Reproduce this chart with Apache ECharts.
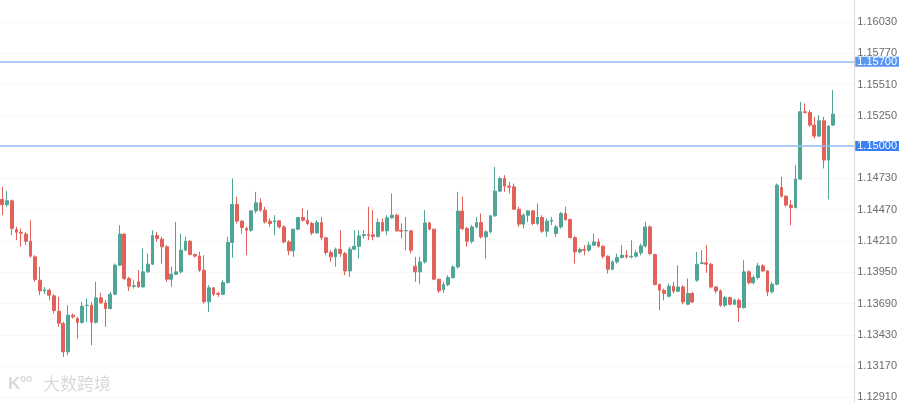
<!DOCTYPE html>
<html>
<head>
<meta charset="utf-8">
<script src="https://cdn.jsdelivr.net/npm/echarts@6/dist/echarts.min.js"></script>
<style>
html,body{margin:0;padding:0;background:#fff;}
#chart{width:900px;height:403px;}
</style>
</head>
<body>
<div id="chart"></div>
<script>
const opens = [1.14555,1.14511,1.14544,1.14305,1.14283,1.14267,1.14208,1.14078,1.13884,1.13795,
1.13801,1.13754,1.13626,1.13523,1.13288,1.13593,1.13565,1.13532,1.13673,1.13676,
1.13534,1.13737,1.13695,1.13648,1.13767,1.14009,1.14267,1.13898,1.13834,1.13870,
1.13828,1.13953,1.14017,1.14256,1.14225,1.14161,1.13892,1.13934,1.13953,1.14133,
1.14208,1.14097,1.14084,1.13967,1.13704,1.13820,1.13773,1.13767,1.13864,1.14197,
1.14513,1.14375,1.14314,1.14299,1.14460,1.14527,1.14466,1.14374,1.14369,1.14377,
1.14327,1.14202,1.14128,1.14308,1.14405,1.14383,1.14355,1.14277,1.14363,1.14236,
1.14114,1.14078,1.14141,1.14105,1.13961,1.14141,1.14166,1.14255,1.14263,1.14261,
1.14247,1.14363,1.14294,1.14402,1.14424,1.14299,1.14294,1.14294,1.14000,1.13953,
1.14036,1.14360,1.14308,1.13892,1.13806,1.13847,1.13906,1.13994,1.14458,1.14313,
1.14208,1.14327,1.14363,1.14244,1.14286,1.14419,1.14624,1.14729,1.14666,1.14660,
1.14474,1.14350,1.14424,1.14460,1.14355,1.14405,1.14291,1.14374,1.14272,1.14327,
1.14438,1.14388,1.14238,1.14119,1.14139,1.14133,1.14175,1.14202,1.14166,1.14083,
1.13975,1.14036,1.14072,1.14091,1.14078,1.14083,1.14111,1.14169,1.14327,1.14097,
1.13848,1.13800,1.13751,1.13834,1.13792,1.13828,1.13684,1.13773,1.13884,1.14022,
1.14028,1.14017,1.13828,1.13795,1.13676,1.13740,1.13684,1.13717,1.13656,1.13953,
1.13862,1.13906,1.14003,1.13961,1.13787,1.13850,1.14654,1.14582,1.14508,1.14488,
1.14724,1.15284,1.15278,1.15173,1.15082,1.15209,1.14882,1.15173];

const closes = [1.14511,1.14544,1.14314,1.14283,1.14275,1.14208,1.14084,1.13889,1.13795,1.13804,
1.13759,1.13632,1.13526,1.13288,1.13593,1.13579,1.13532,1.13668,1.13676,1.13534,
1.13737,1.13695,1.13648,1.13767,1.14009,1.14267,1.13898,1.13834,1.13837,1.13828,
1.13953,1.14017,1.14256,1.14231,1.14161,1.13892,1.13934,1.13953,1.14133,1.14208,
1.14097,1.14084,1.13967,1.13704,1.13820,1.13767,1.13767,1.13864,1.14197,1.14513,
1.14375,1.14322,1.14300,1.14460,1.14527,1.14466,1.14369,1.14355,1.14377,1.14327,
1.14202,1.14128,1.14308,1.14405,1.14383,1.14355,1.14277,1.14363,1.14236,1.14114,
1.14078,1.14141,1.14105,1.13961,1.14141,1.14166,1.14252,1.14263,1.14255,1.14247,
1.14363,1.14294,1.14402,1.14424,1.14294,1.14291,1.14297,1.14133,1.13953,1.14036,
1.14360,1.14308,1.13892,1.13795,1.13847,1.13906,1.13994,1.14458,1.14313,1.14208,
1.14327,1.14363,1.14244,1.14286,1.14419,1.14624,1.14729,1.14666,1.14657,1.14474,
1.14350,1.14424,1.14460,1.14355,1.14405,1.14291,1.14374,1.14383,1.14327,1.14438,
1.14388,1.14238,1.14119,1.14139,1.14133,1.14175,1.14202,1.14166,1.14083,1.13975,
1.14036,1.14072,1.14091,1.14078,1.14083,1.14111,1.14169,1.14327,1.14105,1.13847,
1.13800,1.13773,1.13834,1.13792,1.13828,1.13703,1.13773,1.13703,1.14017,1.14028,
1.14017,1.13828,1.13795,1.13676,1.13740,1.13684,1.13717,1.13656,1.13953,1.13862,
1.13906,1.14003,1.13961,1.13787,1.13850,1.14674,1.14582,1.14508,1.14488,1.14724,
1.15284,1.15278,1.15173,1.15082,1.15209,1.14882,1.15165,1.15264];

const lows = [1.14425,1.14494,1.14258,1.14217,1.14161,1.14175,1.14072,1.13870,1.13759,1.13767,
1.13718,1.13607,1.13496,1.13246,1.13260,1.13565,1.13399,1.13523,1.13537,1.13343,
1.13523,1.13690,1.13496,1.13640,1.13759,1.14000,1.13884,1.13795,1.13815,1.13823,
1.13823,1.13945,1.14009,1.14203,1.14023,1.13870,1.13828,1.13926,1.13939,1.14128,
1.14092,1.14072,1.13953,1.13690,1.13620,1.13751,1.13745,1.13759,1.13856,1.14070,
1.14355,1.14272,1.14092,1.14286,1.14438,1.14452,1.14355,1.14327,1.14258,1.14313,
1.14189,1.14091,1.14078,1.14299,1.14369,1.14341,1.14258,1.14272,1.14216,1.14091,
1.14036,1.13995,1.14078,1.13925,1.13911,1.14133,1.14064,1.14230,1.14216,1.14216,
1.14238,1.14286,1.14258,1.14397,1.14286,1.14230,1.14133,1.14105,1.13870,1.13850,
1.14022,1.14299,1.13884,1.13778,1.13778,1.13834,1.13897,1.13981,1.14299,1.14161,
1.14189,1.14313,1.14230,1.14064,1.14272,1.14410,1.14618,1.14618,1.14605,1.14466,
1.14327,1.14313,1.14369,1.14341,1.14341,1.14277,1.14244,1.14341,1.14244,1.14313,
1.14377,1.14230,1.14022,1.14105,1.14091,1.14119,1.14166,1.14155,1.14064,1.13939,
1.13967,1.14022,1.14064,1.14064,1.14064,1.14072,1.14091,1.14155,1.14091,1.13842,
1.13634,1.13717,1.13740,1.13773,1.13784,1.13684,1.13676,1.13695,1.13870,1.14017,
1.13945,1.13814,1.13773,1.13662,1.13662,1.13673,1.13676,1.13537,1.13648,1.13850,
1.13850,1.13889,1.13953,1.13751,1.13773,1.13842,1.14571,1.14494,1.14341,1.14480,
1.14716,1.15270,1.15159,1.15062,1.15076,1.14813,1.14555,1.15165];

const highs = [1.14660,1.14627,1.14555,1.14328,1.14314,1.14286,1.14383,1.14092,1.13995,1.13828,
1.13815,1.13767,1.13745,1.13537,1.13676,1.13607,1.13579,1.13704,1.13731,1.13704,
1.13870,1.13779,1.13718,1.13787,1.14023,1.14341,1.14272,1.13912,1.13884,1.13967,
1.14147,1.14106,1.14300,1.14286,1.14244,1.14175,1.13995,1.14369,1.14272,1.14244,
1.14217,1.14106,1.14120,1.14092,1.13842,1.13828,1.13787,1.13884,1.14244,1.14730,
1.14577,1.14383,1.14328,1.14466,1.14618,1.14563,1.14494,1.14397,1.14424,1.14383,
1.14341,1.14216,1.14313,1.14410,1.14480,1.14466,1.14369,1.14383,1.14410,1.14244,
1.14133,1.14155,1.14299,1.14119,1.14161,1.14299,1.14299,1.14299,1.14494,1.14466,
1.14397,1.14397,1.14424,1.14605,1.14438,1.14355,1.14410,1.14299,1.14078,1.14078,
1.14466,1.14369,1.14313,1.13897,1.13870,1.13925,1.14008,1.14618,1.14577,1.14327,
1.14341,1.14410,1.14438,1.14299,1.14424,1.14826,1.14743,1.14757,1.14702,1.14688,
1.14494,1.14438,1.14466,1.14466,1.14521,1.14424,1.14397,1.14410,1.14341,1.14452,
1.14494,1.14397,1.14250,1.14155,1.14175,1.14202,1.14272,1.14230,1.14175,1.14091,
1.14050,1.14105,1.14175,1.14133,1.14216,1.14133,1.14189,1.14369,1.14341,1.14105,
1.13856,1.13814,1.13856,1.13870,1.14008,1.13842,1.13898,1.13787,1.14119,1.14133,
1.14175,1.14028,1.13834,1.13806,1.13751,1.13745,1.13731,1.13731,1.14050,1.13967,
1.13925,1.14028,1.14017,1.13967,1.13870,1.14688,1.14743,1.14591,1.14549,1.14840,
1.15367,1.15353,1.15298,1.15242,1.15256,1.15242,1.15173,1.15464];

// 178 candles followed by 4 empty slots on the right edge
const categories = Array.from({length: 182}, (_, i) => 'D' + (i + 1));
const tickLabels = [1.12910,1.13170,1.13430,1.13690,1.13950,1.14210,1.14470,1.14730,1.15250,1.15510,1.15770,1.16030];
const levels = [1.15700, 1.15000];
const levelColors = ['#5a96f2', '#3b80f0'];

const candles = opens.map((o, i) => [o, closes[i], lows[i], highs[i]]);

const chart = echarts.init(document.getElementById('chart'), null, {renderer: 'canvas'});
chart.setOption({
  animation: false,
  backgroundColor: '#ffffff',
  grid: {left: 0, right: 44, top: 0, bottom: 0},
  xAxis: {
    type: 'category',
    data: categories,
    boundaryGap: true,
    axisLine: {show: false},
    axisTick: {show: false},
    axisLabel: {show: false},
    splitLine: {show: false}
  },
  yAxis: {
    type: 'value',
    position: 'right',
    min: 1.12863,
    max: 1.16213,
    axisLine: {show: true, lineStyle: {color: '#dcdcdc', width: 1}},
    axisTick: {show: false, customValues: tickLabels},
    splitLine: {show: true, lineStyle: {color: '#f7f7f7', width: 1}},
    axisLabel: {
      customValues: tickLabels,
      color: '#6b6b6b',
      fontSize: 11,
      fontFamily: 'Liberation Sans, Arial, sans-serif',
      margin: 3,
      formatter: v => Number(v).toFixed(5)
    }
  },
  series: [{
    type: 'candlestick',
    data: candles,
    barWidth: '70%',
    itemStyle: {
      color: '#4fa596',
      color0: '#e2625b',
      borderColor: '#4fa596',
      borderColor0: '#e2625b',
      borderWidth: 1
    },
    markLine: {
      silent: true,
      precision: 5,
      symbol: ['none', 'none'],
      animation: false,
      lineStyle: {color: '#94bbf0', width: 1.5, type: 'solid'},
      label: {
        show: true,
        position: 'end',
        distance: 1,
        formatter: p => Number(p.value).toFixed(5),
        color: '#ffffff',
        fontSize: 11,
        lineHeight: 10,
        fontFamily: 'Liberation Sans, Arial, sans-serif',
        padding: [0, 2, 0, 2]
      },
      emphasis: {disabled: true},
      data: levels.map((v, i) => ({yAxis: v, label: {backgroundColor: levelColors[i]}}))
    }
  }],
  graphic: [{
    type: 'group',
    left: 8,
    top: 374,
    silent: true,
    children: [
      {type: 'text', left: 0, top: 2, style: {text: 'K', fill: '#d9d9d9', font: 'bold 17px Liberation Sans, Arial'}},
      {type: 'text', left: 12, top: 0, style: {text: 'oo', fill: '#d9d9d9', font: 'bold 10px Liberation Sans, Arial'}},
      {type: 'text', left: 35, top: 1, style: {text: '大数跨境', fill: '#d9d9d9', font: '17px "Noto Sans CJK SC"'}}
    ]
  }]
});
</script>
</body>
</html>
